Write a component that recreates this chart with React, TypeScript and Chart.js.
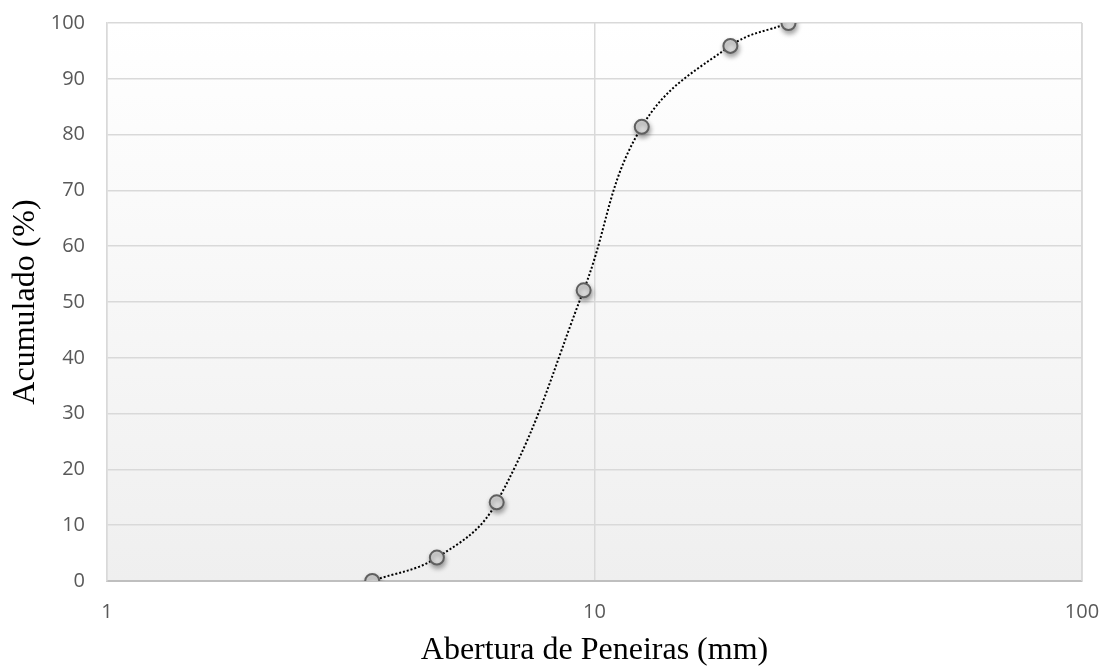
import React, { useEffect, useRef } from "react";
import { Chart, registerables } from "chart.js";

Chart.register(...registerables);

const aberturas: number[] = [3.5, 4.75, 6.3, 9.5, 12.5, 19, 25];
const acumulado: number[] = [0, 4.2, 14.1, 52.1, 81.4, 95.9, 100];
const xTickValues: number[] = [1, 10, 100];
const xTitle = "Abertura de Peneiras (mm)";
const yTitle = "Acumulado (%)";

const bgPlugin = {
  id: "plotBg",
  beforeDraw(chart: any) {
    const { ctx, chartArea } = chart;
    if (!chartArea) return;
    const g = ctx.createLinearGradient(0, chartArea.top, 0, chartArea.bottom);
    g.addColorStop(0, "#ffffff");
    g.addColorStop(1, "#efefef");
    ctx.save();
    ctx.fillStyle = g;
    ctx.fillRect(chartArea.left, chartArea.top, chartArea.right - chartArea.left, chartArea.bottom - chartArea.top);
    ctx.restore();
  },
  afterDraw(chart: any) {
    const { ctx, chartArea } = chart;
    ctx.save();
    ctx.strokeStyle = "#d9d9d9";
    ctx.lineWidth = 1.5;
    ctx.beginPath();
    ctx.moveTo(chartArea.right, chartArea.top);
    ctx.lineTo(chartArea.right, chartArea.bottom);
    ctx.stroke();
    ctx.restore();
  },
};

const shadowPlugin = {
  id: "pointShadow",
  beforeDatasetDraw(chart: any, args: any) {
    const ctx = chart.ctx;
    ctx.save();
    if (args.index === 1) {
      ctx.shadowColor = "rgba(0,0,0,0.35)";
      ctx.shadowBlur = 5;
      ctx.shadowOffsetX = 1;
      ctx.shadowOffsetY = 3;
    }
  },
  afterDatasetDraw(chart: any) {
    chart.ctx.restore();
  },
};

const zeroPad = (scale: any) => {
  scale.paddingLeft = 0;
  scale.paddingRight = 0;
  scale.paddingTop = 0;
  scale.paddingBottom = 0;
};

export default function App() {
  const ref = useRef<HTMLCanvasElement | null>(null);
  useEffect(() => {
    if (!ref.current) return;
    const data = aberturas.map((x, i) => ({ x, y: acumulado[i] }));
    const chart = new Chart(ref.current, {
      type: "scatter",
      data: {
        datasets: [
          {
            data,
            showLine: true,
            borderColor: "#000000",
            borderWidth: 2,
            borderDash: [2, 2],
            tension: 0.4,
            pointRadius: 0,
            order: 2,
          } as any,
          {
            data,
            showLine: false,
            pointRadius: 7,
            pointBorderWidth: 2,
            pointBorderColor: "#5f5f5f",
            pointBackgroundColor: "#dadada",
            order: 1,
          } as any,
        ],
      },
      options: {
        animation: false,
        responsive: false,
        events: [],
        layout: { autoPadding: false, padding: { left: 6, right: 22, top: 23, bottom: -2 } },
        plugins: {
          legend: { display: false },
          tooltip: { enabled: false },
        },
        scales: {
          x: {
            type: "logarithmic",
            min: 1,
            max: 100,
            afterBuildTicks: (scale: any) => {
              scale.ticks = xTickValues.map((v) => ({ value: v }));
            },
            afterFit: (scale: any) => {
              scale.height = 89;
              zeroPad(scale);
            },
            ticks: {
              padding: 19,
              color: "#595959",
              font: { family: "Open Sans", size: 20 },
              callback: (v: any) => String(v),
              autoSkip: false,
              maxRotation: 0,
            },
            grid: {
              color: "#d9d9d9",
              lineWidth: 1.5,
              drawTicks: false,
            },
            border: { color: "#bfbfbf", width: 2 },
            title: {
              display: true,
              text: xTitle,
              color: "#000000",
              font: { family: "Liberation Serif", size: 32 },
              padding: { top: 0, bottom: 0 },
            },
          },
          y: {
            min: 0,
            max: 100,
            afterFit: (scale: any) => {
              scale.width = 101;
              zeroPad(scale);
            },
            ticks: {
              stepSize: 10,
              padding: 22,
              color: "#595959",
              font: { family: "Open Sans", size: 20 },
            },
            grid: {
              color: "#d9d9d9",
              lineWidth: 1.5,
              drawTicks: false,
            },
            border: { color: "#d9d9d9", width: 1.5 },
            title: {
              display: true,
              text: yTitle,
              color: "#000000",
              font: { family: "Liberation Serif", size: 32 },
              padding: { top: 0, bottom: 0 },
            },
          },
        },
      },
      plugins: [bgPlugin, shadowPlugin],
    });
    return () => chart.destroy();
  }, []);
  return (
    <div style={{ position: "fixed", left: 0, top: 0, width: 1104, height: 668 }}>
      <canvas ref={ref} width={1104} height={668} style={{ display: "block" }} />
    </div>
  );
}
